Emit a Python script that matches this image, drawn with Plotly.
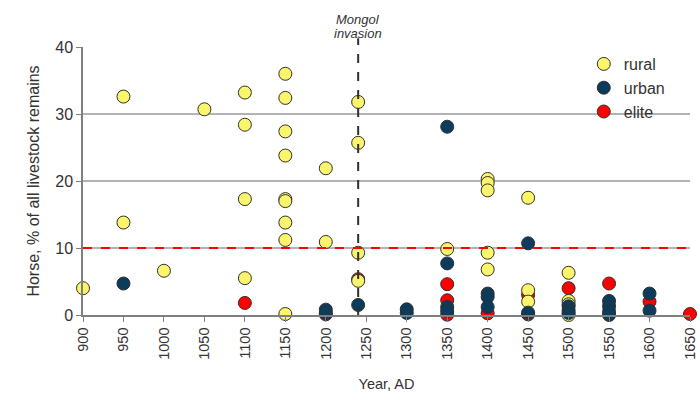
import plotly.graph_objects as go

# Data
rural_year = [900, 950, 950, 1000, 1050, 1100, 1100, 1100, 1100,
              1150, 1150, 1150, 1150, 1150, 1150, 1150, 1150, 1150,
              1200, 1200, 1240, 1240, 1240, 1240,
              1350, 1400, 1400, 1400, 1400, 1400,
              1450, 1450, 1450, 1500, 1500, 1500, 1500]
rural_val = [4.0, 32.6, 13.8, 6.6, 30.7, 33.2, 28.4, 17.3, 5.5,
             36.0, 32.4, 27.4, 23.8, 17.3, 17.0, 13.8, 11.2, 0.15,
             21.9, 10.9, 31.8, 25.7, 9.3, 5.1,
             9.85, 20.3, 19.7, 18.6, 9.3, 6.8,
             17.5, 3.7, 2.0, 6.3, 2.1, 1.6, 0.0]

urban_year = [950, 1200, 1200, 1240, 1300, 1300,
              1350, 1350, 1350, 1350, 1400, 1400, 1400,
              1450, 1450, 1500, 1500, 1500,
              1550, 1550, 1550, 1550, 1600, 1600]
urban_val = [4.7, 0.8, 0.3, 1.5, 0.85, 0.3,
             28.1, 7.7, 1.2, 0.6, 3.2, 2.7, 1.2,
             10.7, 0.35, 1.3, 0.7, 0.3,
             2.1, 1.3, 0.5, 0.0, 3.2, 0.65]

elite_year = [1100, 1200, 1240, 1350, 1350, 1350, 1400, 1450, 1450, 1500, 1550, 1600, 1650]
elite_val = [1.8, 0.1, 5.35, 4.6, 2.2, 0.05, 0.25, 3.0, 0.1, 4.0, 4.7, 2.0, 0.15]

x_ticks = list(range(900, 1651, 50))
y_ticks = [0, 10, 20, 30, 40]
threshold = 10
invasion_year = 1240

FONT = "Arial, Liberation Sans, sans-serif"
LINE_COL = "#303030"

def trace(x, y, name, color, rank):
    return go.Scatter(
        x=x, y=y, mode="markers", name=name, legendrank=rank,
        cliponaxis=False,
        marker=dict(size=13, color=color, line=dict(color=LINE_COL, width=1)),
    )

fig = go.Figure()
fig.add_trace(trace(elite_year, elite_val, "elite", "#ff0000", 3))
fig.add_trace(trace(rural_year, rural_val, "rural", "#fbf56b", 1))
fig.add_trace(trace(urban_year, urban_val, "urban", "#0b3c5d", 2))

# red dashed threshold line
fig.add_shape(type="line", xref="x", yref="y", x0=900, x1=1650, y0=threshold, y1=threshold,
              line=dict(color="#ff0000", width=2, dash="dash"), layer="above")
# vertical invasion line
fig.add_shape(type="line", xref="x", yref="paper", x0=invasion_year, x1=invasion_year, y0=0, y1=1.033,
              line=dict(color="#303030", width=2, dash="dash"), layer="above")

fig.add_annotation(x=invasion_year, xref="x", y=1.103, yref="paper", yanchor="middle",
                   text="<i>Mongol</i>", showarrow=False,
                   font=dict(family=FONT, size=13, color="#333333"))
fig.add_annotation(x=invasion_year, xref="x", y=1.052, yref="paper", yanchor="middle",
                   text="<i>invasion</i>", showarrow=False,
                   font=dict(family=FONT, size=13, color="#333333"))

fig.update_layout(
    width=700, height=394,
    margin=dict(l=83, r=10, t=47, b=79, autoexpand=False),
    paper_bgcolor="white", plot_bgcolor="white",
    font=dict(family=FONT, size=14, color="#333333"),
    showlegend=True,
    legend=dict(x=0.825, y=1.0, xanchor="left", yanchor="top",
                font=dict(family=FONT, size=16, color="#333333"),
                bgcolor="rgba(0,0,0,0)", tracegroupgap=0),
    xaxis=dict(range=[900, 1650], tickvals=x_ticks, ticktext=[str(v) for v in x_ticks],
               tickangle=-90, ticks="outside", ticklen=5, tickcolor="#7f7f7f",
               showline=True, linecolor="#7f7f7f", linewidth=1.5,
               showgrid=False, zeroline=False, automargin=False,
               tickfont=dict(family=FONT, size=14.5, color="#333333"),
               title=dict(text="Year, AD", standoff=20, font=dict(family=FONT, size=14.5, color="#333333"))),
    yaxis=dict(range=[0, 40], tickvals=y_ticks, ticks="outside", ticklen=5, tickcolor="#7f7f7f",
               showline=True, linecolor="#7f7f7f", linewidth=1.5,
               showgrid=True, gridcolor="#b3b3b3", gridwidth=1.5, zeroline=False, automargin=False,
               tickfont=dict(family=FONT, size=16, color="#333333"),
               title=dict(text="Horse, % of all livestock remains", standoff=12,
                          font=dict(family=FONT, size=16, color="#333333"))),
)

fig.write_html("out.html", config={"displayModeBar": False},
               post_script="document.body.style.margin='0';")
